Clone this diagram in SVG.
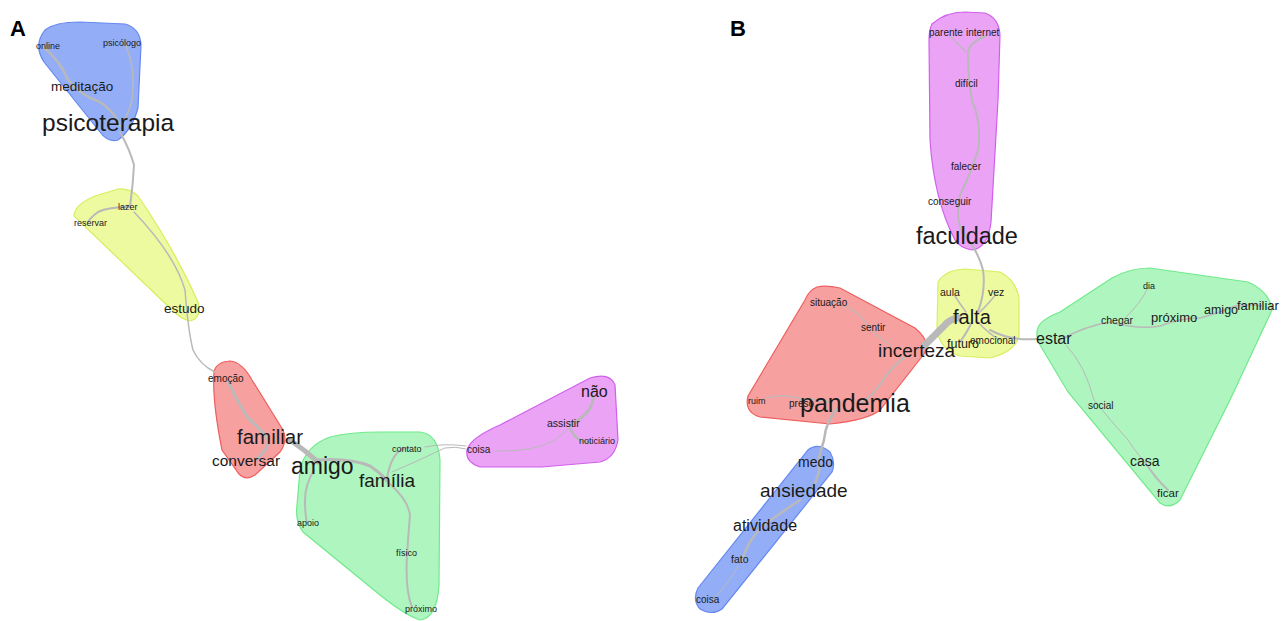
<svg xmlns="http://www.w3.org/2000/svg" width="1282" height="621" viewBox="0 0 1282 621">
<style>
text{font-family:"Liberation Sans",Arial,sans-serif;fill:#1a1a1a}
.panel{font-weight:bold;font-size:22px;fill:#000}
.blue{fill:#93aef7;stroke:#6688f0;stroke-width:1.2}
.yellow{fill:#eefaa0;stroke:#d8ee5c;stroke-width:1.2}
.red{fill:#f7a0a0;stroke:#ee5e5e;stroke-width:1.2}
.green{fill:#aef5bf;stroke:#70ea8c;stroke-width:1.2}
.purple{fill:#eba3f6;stroke:#d060ec;stroke-width:1.2}
.e{fill:none;stroke:#b9b9b9;stroke-linecap:round}
</style>
<defs>
<clipPath id="clipA"><rect x="0" y="0" width="618" height="621"/></clipPath>
</defs>
<rect width="1282" height="621" fill="#fff"/>
<text class="panel" x="10" y="36">A</text>
<text class="panel" x="730" y="36">B</text>

<g id="clusters">
<path id="cA-blue" class="blue" d="M45,30 Q55,22 80,22 L125,24 Q140,28 141,45 L138,108 Q132,130 118,140 Q108,143 100,132 L44,62 Q33,45 45,30 Z"/>
<path id="cA-yellow" class="yellow" d="M74,216 Q74,205 95,196 L118,189 Q130,188 138,196 Q175,250 198,302 Q202,318 190,321 Q182,320 170,308 Z"/>
<path id="cA-red" class="red" d="M214,372 Q216,362 230,361 Q242,362 252,380 L283,430 Q288,441 280,452 L255,475 Q246,481 239,474 L222,450 Q212,400 214,372 Z"/>
<path id="cA-green" class="green" d="M300,470 Q305,446 330,437 Q350,432 380,432 L420,432 Q438,434 440,460 L439,585 Q437,618 420,620 Q405,615 380,595 L303,532 Q295,522 297,505 Z"/>
<path id="cA-purple" class="purple" d="M467,450 Q470,438 500,425 L590,378 Q610,372 615,385 L618,440 Q615,458 600,462 L542,467 L480,467 Q465,462 467,450 Z"/>
<path id="cB-purple" class="purple" d="M932,24 Q945,12 965,12 L985,13 Q999,18 1000,35 L998,100 L991,222 Q988,248 972,250 Q960,248 955,240 Q934,200 930,140 L929,40 Q929,30 932,24 Z"/>
<path id="cB-yellow" class="yellow" d="M938,282 Q945,270 965,269 L1000,272 Q1016,280 1019,298 L1019,336 Q1015,352 990,358 L960,356 Q940,350 937,330 Z"/>
<path id="cB-red" class="red" d="M817,287 Q826,285 840,288 L915,328 Q932,342 924,354 L880,410 Q868,420 830,424 L760,417 Q744,412 748,396 L805,300 Q809,290 817,287 Z"/>
<path id="cB-green" class="green" d="M1038,328 Q1040,320 1060,312 L1112,278 Q1130,268 1150,268 L1248,282 Q1270,292 1272,310 L1230,400 L1180,500 Q1170,510 1160,503 L1068,392 L1040,345 Q1035,335 1038,328 Z"/>
<path id="cB-blue" class="blue" d="M808,450 Q818,442 830,452 Q836,462 832,472 L722,609 Q712,616 700,609 Q692,600 698,588 Z"/>
</g>

<g id="connectors">
<path class="e" stroke-width="2.5" d="M42,46 Q60,60 68,80 Q80,95 100,102 Q115,112 120,126"/>
<path class="e" stroke-width="1.5" d="M126,46 Q136,70 132,100 Q128,115 122,124"/>
<path class="e" stroke-width="2" d="M120,132 Q130,150 134,165 Q133,185 130,207"/>
<path class="e" stroke-width="2" d="M130,207 Q108,207 98,212 Q90,218 88,222"/>
<path class="e" stroke-width="1.5" d="M134,212 Q175,255 185,290 Q188,330 193,350 Q200,365 215,372"/>
<path class="e" stroke-width="3" d="M228,381 Q236,400 248,418 Q262,430 268,440"/>
<path class="e" stroke-width="3" d="M268,443 Q266,452 255,460"/>
<path class="e" stroke-width="5" d="M290,440 Q305,450 318,462"/>
<path class="e" stroke-width="3" d="M318,460 Q350,458 370,466 Q382,474 388,482"/>
<path class="e" stroke-width="2" d="M314,470 Q305,485 305,500 Q305,515 307,522"/>
<path class="e" stroke-width="2" d="M387,478 Q390,460 398,452 Q403,448 408,448"/>
<path class="e" stroke-width="2" d="M390,484 Q408,500 410,515 Q408,540 407,555 Q405,590 412,607"/>
<path class="e" stroke-width="1" d="M425,447 Q445,443 466,446"/>
<path class="e" stroke-width="1" d="M392,472 Q420,460 445,448 Q456,446 466,449"/>
<path class="e" stroke-width="1" d="M495,451 Q535,452 555,440 Q565,432 570,427"/>
<path class="e" stroke-width="3" d="M570,425 Q584,418 590,408 Q594,400 593,396"/>
<path class="e" stroke-width="2.5" d="M570,428 Q574,438 582,441 Q586,442 590,443"/>

<path class="e" stroke-width="1.2" d="M950,36 Q958,44 966,52"/>
<path class="e" stroke-width="2" d="M986,36 Q970,42 968,52 Q968,80 972,100 Q982,125 978,150 Q970,175 960,195 Q955,215 962,232 Q978,250 983,270 Q986,290 978,312"/>
<path class="e" stroke-width="1.5" d="M966,312 Q960,304 955,296"/>
<path class="e" stroke-width="1.5" d="M980,312 Q990,302 996,294"/>
<path class="e" stroke-width="2" d="M972,322 Q966,334 960,342"/>
<path class="e" stroke-width="1.5" d="M978,322 Q990,335 1000,340"/>
<path class="e" stroke-width="2" d="M990,330 Q1010,341 1037,339"/>
<path class="e" stroke-width="7" d="M925,345 Q935,335 945,325 Q950,319 958,318"/>
<path class="e" stroke-width="1.2" d="M834,302 Q855,308 865,322 Q875,335 890,345"/>
<path class="e" stroke-width="2" d="M905,357 Q890,368 882,382 Q872,396 862,402"/>
<path class="e" stroke-width="1.2" d="M766,398 Q785,393 805,400"/>
<path class="e" stroke-width="1.5" d="M800,400 Q815,398 830,402"/>
<path class="e" stroke-width="2.5" d="M838,408 Q826,420 824,440 Q820,452 818,462"/>
<path class="e" stroke-width="2.5" d="M820,466 Q818,478 812,490"/>
<path class="e" stroke-width="2.5" d="M800,500 Q785,510 768,522 Q752,535 746,550 Q743,556 742,562"/>
<path class="e" stroke-width="1" d="M738,566 Q728,585 712,600"/>
<path class="e" stroke-width="1.5" d="M1060,340 Q1085,326 1110,322 Q1140,330 1160,326 Q1180,318 1200,318 Q1222,312 1235,306 Q1250,304 1262,306"/>
<path class="e" stroke-width="1" d="M1125,318 Q1140,304 1148,288"/>
<path class="e" stroke-width="1" d="M1066,345 Q1085,365 1094,400 Q1110,420 1128,440 Q1138,455 1145,462"/>
<path class="e" stroke-width="2" d="M1145,462 Q1155,478 1168,490"/>
</g>

<g id="nodes-A">
<text id="n-online" x="36" y="49" font-size="9">online</text>
<text id="n-psicologo" x="103" y="46" font-size="9">psicólogo</text>
<text id="n-meditacao" x="51" y="91" font-size="13.5">meditação</text>
<text id="n-psicoterapia" x="42" y="131" font-size="24.5">psicoterapia</text>
<text id="n-lazer" x="118" y="210" font-size="9">lazer</text>
<text id="n-reservar" x="74" y="226" font-size="9">reservar</text>
<text id="n-estudo" x="164" y="313" font-size="13.5">estudo</text>
<text id="n-emocao" x="208" y="382" font-size="10">emoção</text>
<text id="n-familiar" x="237" y="444" font-size="20.5">familiar</text>
<text id="n-conversar" x="212" y="466" font-size="15.5">conversar</text>
<text id="n-amigo" x="291" y="474" font-size="23">amigo</text>
<text id="n-familia" x="359" y="487" font-size="19">família</text>
<text id="n-contato" x="392" y="452" font-size="9">contato</text>
<text id="n-apoio" x="297" y="526" font-size="9">apoio</text>
<text id="n-fisico" x="396" y="556" font-size="9">físico</text>
<text id="n-proximo" x="405" y="612" font-size="9">próximo</text>
<text id="n-coisa" x="467" y="453" font-size="10">coisa</text>
<text id="n-nao" x="581" y="397" font-size="16">não</text>
<text id="n-assistir" x="547" y="427" font-size="10.5">assistir</text>
<text id="n-noticiario" x="579" y="444" font-size="9" clip-path="url(#clipA)">noticiário</text>
</g>

<g id="nodes-B">
<text id="n-parente" x="929" y="36" font-size="10">parente</text>
<text id="n-internet" x="966" y="36" font-size="10">internet</text>
<text id="n-dificil" x="955" y="87" font-size="10">difícil</text>
<text id="n-falecer" x="951" y="170" font-size="10">falecer</text>
<text id="n-conseguir" x="928" y="205" font-size="10">conseguir</text>
<text id="n-faculdade" x="916" y="244" font-size="23.5">faculdade</text>
<text id="n-aula" x="940" y="296" font-size="10.5">aula</text>
<text id="n-vez" x="988" y="296" font-size="10.5">vez</text>
<text id="n-falta" x="953" y="324" font-size="20">falta</text>
<text id="n-futuro" x="947" y="348" font-size="12.5">futuro</text>
<text id="n-emocional" x="970" y="344" font-size="10">emocional</text>
<text id="n-estar" x="1036" y="344" font-size="16">estar</text>
<text id="n-situacao" x="810" y="306" font-size="10">situação</text>
<text id="n-sentir" x="861" y="331" font-size="10">sentir</text>
<text id="n-incerteza" x="878" y="357" font-size="19">incerteza</text>
<text id="n-ruim" x="748" y="404" font-size="9">ruim</text>
<text id="n-preso" x="789" y="407" font-size="10">preso</text>
<text id="n-pandemia" x="800" y="412" font-size="25">pandemia</text>
<text id="n-medo" x="798" y="467" font-size="14">medo</text>
<text id="n-ansiedade" x="760" y="497" font-size="19">ansiedade</text>
<text id="n-atividade" x="733" y="531" font-size="16">atividade</text>
<text id="n-fato" x="731" y="563" font-size="10.5">fato</text>
<text id="n-coisaB" x="696" y="603" font-size="10">coisa</text>
<text id="n-dia" x="1143" y="289" font-size="9">dia</text>
<text id="n-chegar" x="1101" y="324" font-size="10.5">chegar</text>
<text id="n-proximoB" x="1151" y="322" font-size="13">próximo</text>
<text id="n-amigoB" x="1204" y="314" font-size="12.5">amigo</text>
<text id="n-familiarB" x="1237" y="310" font-size="13">familiar</text>
<text id="n-social" x="1088" y="409" font-size="10">social</text>
<text id="n-casa" x="1130" y="466" font-size="14">casa</text>
<text id="n-ficar" x="1157" y="497" font-size="11.5">ficar</text>
</g>
</svg>
